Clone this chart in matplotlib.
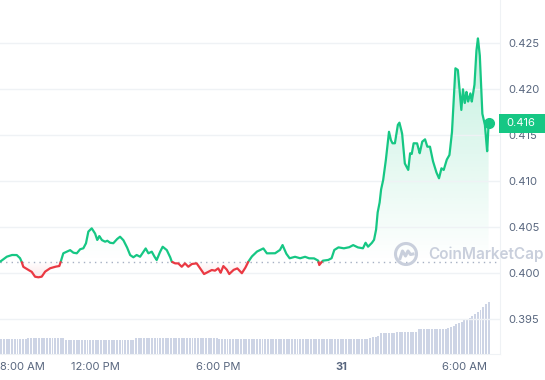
import numpy as np
import matplotlib.pyplot as plt
import matplotlib.transforms as mtrans
from matplotlib.path import Path
from matplotlib.patches import PathPatch, Rectangle, Circle
from matplotlib.lines import Line2D

plt.rcParams['font.family'] = ['Inter', 'DejaVu Sans']

# horas contadas desde las 8:00 AM del dia 30
hours = [-0.83, -0.63, -0.31, -0.06, 0.18, 0.34, 0.42, 0.50, 0.75, 0.91, 1.07, 1.23, 1.40,
         1.56, 1.80, 2.05, 2.26, 2.33, 2.45, 2.62, 2.78, 2.94, 3.11, 3.27, 3.43, 3.56,
         3.67, 3.84, 4.00, 4.11, 4.21, 4.33, 4.49, 4.60, 4.73, 4.89, 5.06, 5.22, 5.38,
         5.55, 5.71, 5.87, 6.03, 6.20, 6.36, 6.47, 6.60, 6.77, 6.88, 7.01, 7.14, 7.30,
         7.50, 7.66, 7.74, 7.90, 8.06, 8.23, 8.39, 8.55, 8.72, 8.96, 9.12, 9.32, 9.53,
         9.69, 9.85, 10.01, 10.13, 10.26, 10.42, 10.55, 10.75, 10.94, 11.16, 11.32,
         11.48, 11.64, 11.89, 12.05, 12.21, 12.38, 12.54, 12.78, 13.02, 13.15, 13.32,
         13.49, 13.75, 14.00, 14.24, 14.43, 14.68, 14.89, 14.94, 15.11, 15.37, 15.54,
         15.67, 15.87, 16.13, 16.39, 16.59, 16.81, 17.07, 17.20, 17.32, 17.49, 17.61,
         17.71, 17.78, 17.88, 17.95, 18.05, 18.17, 18.34, 18.43, 18.51, 18.63, 18.77,
         18.85, 18.98, 19.11, 19.28, 19.37, 19.45, 19.54, 19.71, 19.84, 19.96, 20.10,
         20.21, 20.34, 20.47, 20.64, 20.78, 20.90, 21.01, 21.15, 21.29, 21.41, 21.58,
         21.70, 21.87, 21.95, 22.04, 22.12, 22.20, 22.31, 22.38, 22.51, 22.60, 22.68,
         22.77, 22.89, 23.02, 23.13, 23.20]
price = [0.40120, 0.40123, 0.40177, 0.40196, 0.40196, 0.40163, 0.40123, 0.40068, 0.40033,
         0.40014, 0.39960, 0.39953, 0.39960, 0.40014, 0.40051, 0.40068, 0.40076, 0.40123,
         0.40214, 0.40232, 0.40250, 0.40221, 0.40214, 0.40258, 0.40268, 0.40323, 0.40449,
         0.40486, 0.40432, 0.40359, 0.40402, 0.40359, 0.40340, 0.40351, 0.40329, 0.40323,
         0.40366, 0.40395, 0.40359, 0.40286, 0.40196, 0.40171, 0.40196, 0.40177, 0.40232,
         0.40268, 0.40214, 0.40232, 0.40185, 0.40141, 0.40214, 0.40286, 0.40250, 0.40177,
         0.40123, 0.40105, 0.40105, 0.40068, 0.40105, 0.40068, 0.40098, 0.40105, 0.40051,
         0.39989, 0.40014, 0.40033, 0.40025, 0.40051, 0.40003, 0.40076, 0.40040, 0.39989,
         0.40033, 0.40051, 0.39997, 0.40051, 0.40123, 0.40177, 0.40232, 0.40250, 0.40268,
         0.40214, 0.40214, 0.40214, 0.40250, 0.40304, 0.40214, 0.40160, 0.40177, 0.40160,
         0.40177, 0.40160, 0.40160, 0.40134, 0.40087, 0.40134, 0.40141, 0.40160, 0.40250,
         0.40279, 0.40268, 0.40279, 0.40304, 0.40279, 0.40268, 0.40329, 0.40286, 0.40323,
         0.40359, 0.40467, 0.40649, 0.40758, 0.40902, 0.41000, 0.41192, 0.41536, 0.41446,
         0.41410, 0.41410, 0.41609, 0.41634, 0.41518, 0.41192, 0.41120, 0.41301, 0.41293,
         0.41410, 0.41410, 0.41301, 0.41427, 0.41453, 0.41373, 0.41373, 0.41228, 0.41101,
         0.41029, 0.41138, 0.41120, 0.41228, 0.41283, 0.41518, 0.42225, 0.42207, 0.41772,
         0.41997, 0.41845, 0.41971, 0.41862, 0.41953, 0.41862, 0.42043, 0.42405, 0.42551,
         0.42370, 0.41736, 0.41609, 0.41318, 0.41627]
open_price = 0.4012

# volumen (unidades relativas)
volume = ([15.0] * 12 + [15.6] * 14 + [14.0] * 26 + [16.3] * 31 + [15.3] * 56
          + [15.8, 16.6, 17.4, 18.3] + [21.0] * 6 + [22.3] * 8 + [25.0] * 11
          + [26, 27, 28, 30, 31, 32, 34, 35, 36, 38, 40, 42, 44, 47, 49.5, 51.6])

price_ticks = [0.395, 0.400, 0.405, 0.410, 0.415, 0.420, 0.425]
tick_hours = [4, 10, 16, 22]
tick_labels = ['12:00 PM', '6:00 PM', '31', '6:00 AM']
first_label = '8:00 AM'

GREEN = '#16c784'
RED = '#ea3943'
GRAY = '#58667e'
GRID = '#eff2f5'

W, H = 545, 380
fig = plt.figure(figsize=(W / 100, H / 100), dpi=100)
rect = [0, 26 / H, 500 / W, 354 / H]
xlim = (-0.634, 23.756)
ylim = (0.39120, 0.42967)

# volumen al fondo
ax_v = fig.add_axes(rect)
vol_t = np.linspace(hours[0], hours[-1], len(volume))
ax_v.bar(vol_t, volume, width=0.095, color='#cdd4e5', linewidth=0)
ax_v.set_xlim(xlim)
ax_v.set_ylim(0, max(volume) / 0.146)
ax_v.axis('off')

ax = fig.add_axes(rect)
ax.patch.set_alpha(0)

t = np.array(hours)
p = np.array(price)
td = np.linspace(t[0], t[-1], 6000)
pd_ = np.interp(td, t, p)

def grad_fill(y_edge, y_far, color, alpha_far):
    verts = list(zip(td, y_edge)) + list(zip(td[::-1], np.full(len(td), open_price)))
    path = Path(verts + [verts[0]])
    patch = PathPatch(path, transform=ax.transData, facecolor='none', edgecolor='none')
    rgb = plt.matplotlib.colors.to_rgb(color)
    n = 256
    img = np.zeros((n, 1, 4))
    img[:, 0, :3] = rgb
    img[:, 0, 3] = np.linspace(0, alpha_far, n)
    lo, hi = sorted([open_price, y_far])
    if y_far < open_price:
        img = img[::-1]
    im = ax.imshow(img, extent=[td[0], td[-1], lo, hi], origin='lower',
                   aspect='auto', interpolation='bilinear', zorder=1)
    im.set_clip_path(patch)

grad_fill(np.maximum(pd_, open_price), p.max(), GREEN, 0.26)
grad_fill(np.minimum(pd_, open_price), p.min(), RED, 0.12)

up = np.where(pd_ >= open_price, pd_, np.nan)
down = np.where(pd_ <= open_price, pd_, np.nan)
ax.plot(td, up, color=GREEN, lw=1.6, solid_joinstyle='round', solid_capstyle='round', zorder=3)
ax.plot(td, down, color=RED, lw=1.6, solid_joinstyle='round', solid_capstyle='round', zorder=3)
ax.plot(t[-1], p[-1], 'o', color=GREEN, ms=7, zorder=4)

ax.axhline(open_price, color='#a6b0c3', lw=1, linestyle=(0, (1, 3)), zorder=2)

ax.set_xlim(xlim)
ax.set_ylim(ylim)
ax.set_yticks(price_ticks)
ax.yaxis.set_major_formatter(plt.FormatStrFormatter('%.3f'))
ax.yaxis.tick_right()
ax.grid(axis='y', color=GRID, lw=1, zorder=0)
ax.tick_params(axis='y', length=0, pad=6, labelcolor=GRAY, labelsize=8)
ax.set_xticks(tick_hours, tick_labels)
ax.tick_params(axis='x', length=0, pad=6, labelcolor=GRAY, labelsize=8)
ax.get_xticklabels()[2].set_fontweight('bold')
ax.annotate(first_label, xy=(0, 0), xycoords='axes fraction', xytext=(0, -6),
            textcoords='offset points', ha='left', va='top', color=GRAY, fontsize=8)
for s in ['top', 'left']:
    ax.spines[s].set_visible(False)
ax.spines['right'].set_color(GRID)
ax.spines['bottom'].set_color(GRID)

# etiqueta del ultimo precio
tr = mtrans.blended_transform_factory(fig.transFigure, ax.transData)
box_h = 19 / 9200
fig.add_artist(Rectangle((499 / W, price[-1] - box_h / 2), 46 / W, box_h, transform=tr,
                         facecolor=GREEN, edgecolor='none', zorder=5))
fig.text(506 / W, price[-1], '%.3f' % price[-1], transform=tr, color='white',
         fontsize=8, va='center', ha='left', zorder=6)

# marca de agua
wm = '#c9cfdc'
fig.add_artist(Circle((4.06, (H - 254) / 100), 0.105, transform=fig.dpi_scale_trans,
                      facecolor='none', edgecolor=wm, lw=2.2, zorder=2))
cx, cy = 4.06, (H - 254) / 100
mx = [cx - 0.06, cx - 0.035, cx - 0.005, cx + 0.02, cx + 0.045, cx + 0.07]
my = [cy - 0.045, cy + 0.03, cy - 0.02, cy + 0.03, cy - 0.005, cy + 0.0]
fig.add_artist(Line2D(mx, my, transform=fig.dpi_scale_trans, color=wm, lw=2.2,
                      solid_joinstyle='round', zorder=2))
fig.text(428 / W, 1 - 254 / H, 'CoinMarketCap', color=wm, fontsize=11,
         fontweight='semibold', va='center', ha='left', zorder=2)

fig.savefig('out.png', dpi=100)
